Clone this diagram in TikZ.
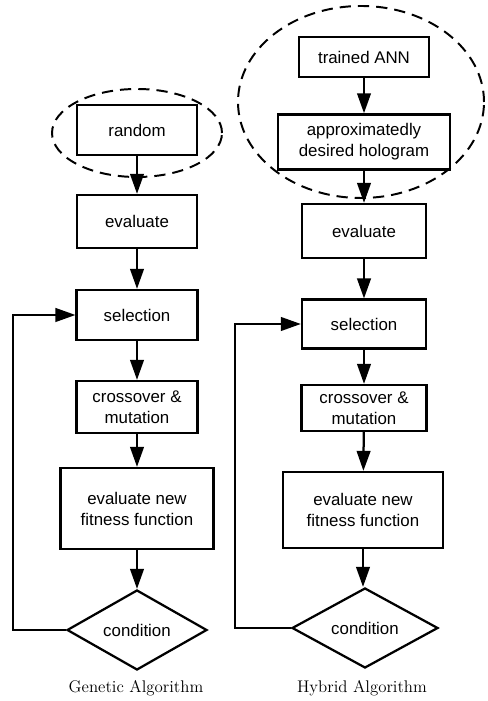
\documentclass[tikz,border=0pt]{standalone}
\usepackage{fontspec}
\setsansfont{Liberation Sans}
\usepackage{tikz}
\usetikzlibrary{arrows.meta,positioning,calc,shapes.geometric}
\tikzset{
  block/.style={draw=black, fill=white, line width=1.6pt, align=center,
                inner sep=2pt, font=\sffamily\fontsize{12}{15}\selectfont},
  decision/.style={block, shape=diamond, inner sep=0pt},
  arrow/.style={-{Triangle[length=5mm,width=3.4mm]}, line width=1.6pt, draw=black},
  group/.style={draw=black, line width=1.4pt, dash pattern=on 8pt off 5pt},
  caption/.style={font=\rmfamily\fontsize{12}{14}\selectfont}
}

\begin{document}
\begin{tikzpicture}[x=1cm,y=1cm]
        \useasboundingbox[fill=white] (0,0) rectangle (12.175,17.525);

        % genetic algorithm column
        \node[block,minimum width=3.00cm,minimum height=1.25cm] (grand) at (3.425,14.275) {random};
        \node[block,minimum width=3.00cm,minimum height=1.32cm] (geval) at (3.425,11.99) {evaluate};
        \node[block,minimum width=3.02cm,minimum height=1.25cm] (gsel) at (3.425,9.65) {selection};
        \node[block,minimum width=3.02cm,minimum height=1.30cm] (gcross) at (3.425,7.35) {crossover \&\\ mutation};
        \node[block,minimum width=3.83cm,minimum height=2.03cm] (gfit) at (3.425,4.81) {evaluate new\\ fitness function};
        \node[decision,minimum width=3.50cm,minimum height=2.00cm] (gcond) at (3.425,1.775) {condition};
        \node[caption] (gcap) at (3.40,0.325) {Genetic Algorithm};
        \coordinate (gloop) at (0.325,9.65);

        \draw[group] (3.425,14.2) ellipse [x radius=2.125, y radius=1.1];
        \draw[arrow] (grand) -- (geval);
        \draw[arrow] (geval) -- (gsel);
        \draw[arrow] (gsel) -- (gcross);
        \draw[arrow] (gcross) -- (gfit);
        \draw[arrow] (gfit) -- (gcond);
        \draw[arrow] (gcond.west) -- (gcond.west -| gloop) |- (gsel.west);

        % hybrid algorithm column
        \node[block,minimum width=3.25cm,minimum height=1.00cm] (hann) at (9.1,16.1) {trained ANN};
        \node[block,minimum width=4.30cm,minimum height=1.38cm] (happ) at (9.1,13.975) {approximatedly\\ desired hologram};
        \node[block,minimum width=3.10cm,minimum height=1.35cm] (heval) at (9.1,11.75) {evaluate};
        \node[block,minimum width=3.10cm,minimum height=1.22cm] (hsel) at (9.1,9.425) {selection};
        \node[block,minimum width=3.12cm,minimum height=1.15cm] (hcross) at (9.1,7.325) {crossover \&\\ mutation};
        \node[block,minimum width=4.00cm,minimum height=1.90cm] (hfit) at (9.075,4.775) {evaluate new\\ fitness function};
        \node[decision,minimum width=3.65cm,minimum height=2.00cm] (hcond) at (9.125,1.825) {condition};
        \node[caption] (hcap) at (9.05,0.325) {Hybrid Algorithm};
        \coordinate (hloop) at (5.875,9.425);

        \draw[group] (9.025,14.975) ellipse [x radius=3.075, y radius=2.4];
        \draw[arrow] (hann) -- (happ);
        \draw[arrow] (happ) -- (heval);
        \draw[arrow] (heval) -- (hsel);
        \draw[arrow] (hsel) -- (hcross);
        \draw[arrow] (hcross) -- (hfit);
        \draw[arrow] (hfit) -- (hcond.north -| hfit.south);
        \draw[arrow] (hcond.west) -- (hcond.west -| hloop) |- (hsel.west);
      \end{tikzpicture}
\end{document}
